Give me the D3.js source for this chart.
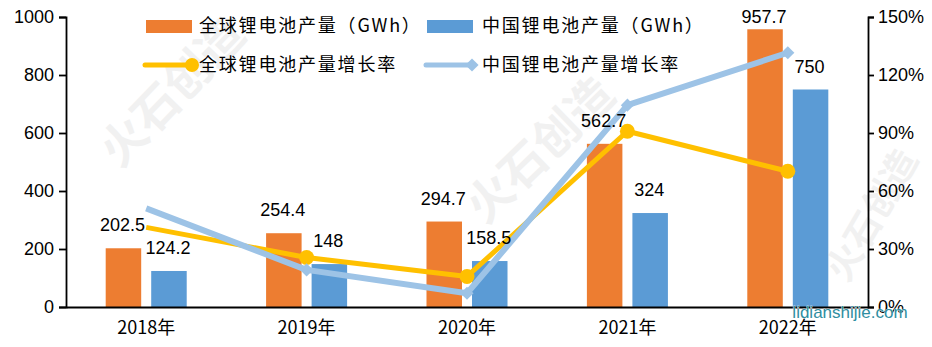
<!DOCTYPE html>
<html><head><meta charset="utf-8">
<script src="https://cdn.jsdelivr.net/npm/d3@7"></script>
<style>
html,body{margin:0;padding:0;background:#fff;}
svg{display:block;}
</style></head>
<body>
<svg id="chart" width="932" height="347"></svg>
<script>
const categories = ["2018年","2019年","2020年","2021年","2022年"];
const globalOutput = [202.5, 254.4, 294.7, 562.7, 957.7];
const chinaOutput = [124.2, 148, 158.5, 324, 750];
const globalGrowth = [0.412, 0.256, 0.158, 0.909, 0.702];
const chinaGrowth = [0.510, 0.192, 0.071, 1.044, 1.315];
const leftTicks = [0, 200, 400, 600, 800, 1000];
const rightTicks = [0, 0.3, 0.6, 0.9, 1.2, 1.5];
const seriesNames = ["全球锂电池产量（GWh）","中国锂电池产量（GWh）","全球锂电池产量增长率","中国锂电池产量增长率"];

const C_OR = "#ED7D31", C_BL = "#5B9BD5", C_YE = "#FFC000", C_LB = "#9DC3E6";
const numFont = "Liberation Sans, Arial, sans-serif";
const cjkFont = "'Noto Sans CJK SC', sans-serif";

const svg = d3.select("#chart");
const L = 66, R = 868, T = 17, B = 307;

// watermark
const wm = svg.append("g").attr("fill", "#f1f1f1").attr("font-family", cjkFont)
  .attr("font-weight", "bold").attr("text-anchor", "middle");
[[172, 92, -46, 46], [540, 150, -44, 46], [872, 215, -60, 36]].forEach(([cx, cy, a, fs]) => {
  wm.append("text").attr("transform", `translate(${cx},${cy}) rotate(${a})`)
    .attr("font-size", fs).attr("dy", "0.35em").text("火石创造");
});

const x = d3.scaleBand().domain(categories).range([L, R]).padding(0);
const sub = d3.scaleBand().domain(["g", "c"]).range([0, x.bandwidth()])
  .paddingInner(0.22).paddingOuter(0.872);
const yL = d3.scaleLinear().domain([0, 1000]).range([B, T]);
const yR = d3.scaleLinear().domain([0, 1.5]).range([B, T]);

// bars
const barData = [];
categories.forEach((c, i) => {
  barData.push({c, k: "g", v: globalOutput[i], col: C_OR});
  barData.push({c, k: "c", v: chinaOutput[i], col: C_BL});
});
svg.append("g").selectAll("rect").data(barData).join("rect")
  .attr("x", d => x(d.c) + sub(d.k))
  .attr("width", sub.bandwidth())
  .attr("y", d => yL(d.v))
  .attr("height", d => B - yL(d.v))
  .attr("fill", d => d.col);

// axes
const axL = svg.append("g").attr("transform", `translate(${L},0)`)
  .call(d3.axisLeft(yL).tickValues(leftTicks).tickSize(7).tickPadding(5).tickFormat(d3.format("d")));
const axR = svg.append("g").attr("transform", `translate(${R},0)`)
  .call(d3.axisRight(yR).tickValues(rightTicks).tickSize(6).tickPadding(4).tickFormat(d => Math.round(d * 100) + "%"));
[axL, axR].forEach(a => {
  a.select(".domain").attr("stroke", "#000").attr("stroke-width", 1.8);
  a.selectAll(".tick line").attr("stroke", "#000").attr("stroke-width", 1.8);
  a.selectAll(".tick text").attr("font-family", numFont).attr("font-size", 18).attr("fill", "#000");
});
const axB = svg.append("g").attr("transform", `translate(0,${B})`)
  .call(d3.axisBottom(x).tickSize(0).tickPadding(14));
axB.select(".domain").attr("stroke", "#000").attr("stroke-width", 1.8);
axB.selectAll(".tick text").attr("font-family", cjkFont).attr("font-size", 18).attr("fill", "#000");

// lines
const cx = c => x(c) + x.bandwidth() / 2;
const line = d3.line().x(d => cx(d.c)).y(d => yR(d.v));
const gData = categories.map((c, i) => ({c, v: globalGrowth[i]}));
const cData = categories.map((c, i) => ({c, v: chinaGrowth[i]}));
svg.append("path").datum(gData).attr("d", line).attr("fill", "none")
  .attr("stroke", C_YE).attr("stroke-width", 5).attr("stroke-linejoin", "round");
svg.append("g").selectAll("circle").data(gData.slice(1)).join("circle")
  .attr("cx", d => cx(d.c)).attr("cy", d => yR(d.v)).attr("r", 7.5).attr("fill", C_YE);
svg.append("path").datum(cData).attr("d", line).attr("fill", "none")
  .attr("stroke", C_LB).attr("stroke-width", 6).attr("stroke-linejoin", "round");
const diamond = d3.symbol().type(d3.symbolDiamond2).size(110);
svg.append("g").selectAll("path").data(cData.slice(1)).join("path")
  .attr("transform", d => `translate(${cx(d.c)},${yR(d.v)})`)
  .attr("d", diamond).attr("fill", C_LB);

// value labels (drawn on top of lines)
svg.append("g").attr("font-family", numFont).attr("font-size", 18).attr("fill", "#000")
  .attr("text-anchor", "middle")
  .selectAll("text").data(barData).join("text")
  .attr("x", d => x(d.c) + sub(d.k) + sub.bandwidth() / 2 - 1)
  .attr("y", d => Math.max(yL(d.v) - 17, 23))
  .text(d => d3.format("")(d.v));

// legend
const lg = svg.append("g").attr("font-family", cjkFont).attr("font-size", 18)
  .attr("letter-spacing", 1.8).attr("fill", "#000");
lg.append("rect").attr("x", 146).attr("y", 20).attr("width", 46).attr("height", 13).attr("fill", C_OR);
lg.append("text").attr("x", 199).attr("y", 26).attr("dy", "0.36em").text(seriesNames[0]);
lg.append("rect").attr("x", 427).attr("y", 20).attr("width", 46).attr("height", 13).attr("fill", C_BL);
lg.append("text").attr("x", 482).attr("y", 26).attr("dy", "0.36em").text(seriesNames[1]);
lg.append("line").attr("x1", 145).attr("x2", 192).attr("y1", 65).attr("y2", 65)
  .attr("stroke", C_YE).attr("stroke-width", 5).attr("stroke-linecap", "round");
lg.append("circle").attr("cx", 192).attr("cy", 65).attr("r", 7).attr("fill", C_YE);
lg.append("text").attr("x", 199).attr("y", 65).attr("dy", "0.36em").text(seriesNames[2]);
lg.append("line").attr("x1", 426).attr("x2", 472).attr("y1", 65).attr("y2", 65)
  .attr("stroke", C_LB).attr("stroke-width", 5).attr("stroke-linecap", "round");
lg.append("path").attr("transform", "translate(472,65)").attr("d", diamond).attr("fill", C_LB);
lg.append("text").attr("x", 482).attr("y", 65).attr("dy", "0.36em").text(seriesNames[3]);

// site mark
svg.append("text").attr("x", 850).attr("y", 318).attr("text-anchor", "middle")
  .attr("font-family", numFont).attr("font-size", 17).attr("fill", "#2f8ea1")
  .attr("stroke", "#ffffff").attr("stroke-width", 0.6).attr("paint-order", "stroke")
  .text("lidianshijie.com");
</script>
</body></html>
